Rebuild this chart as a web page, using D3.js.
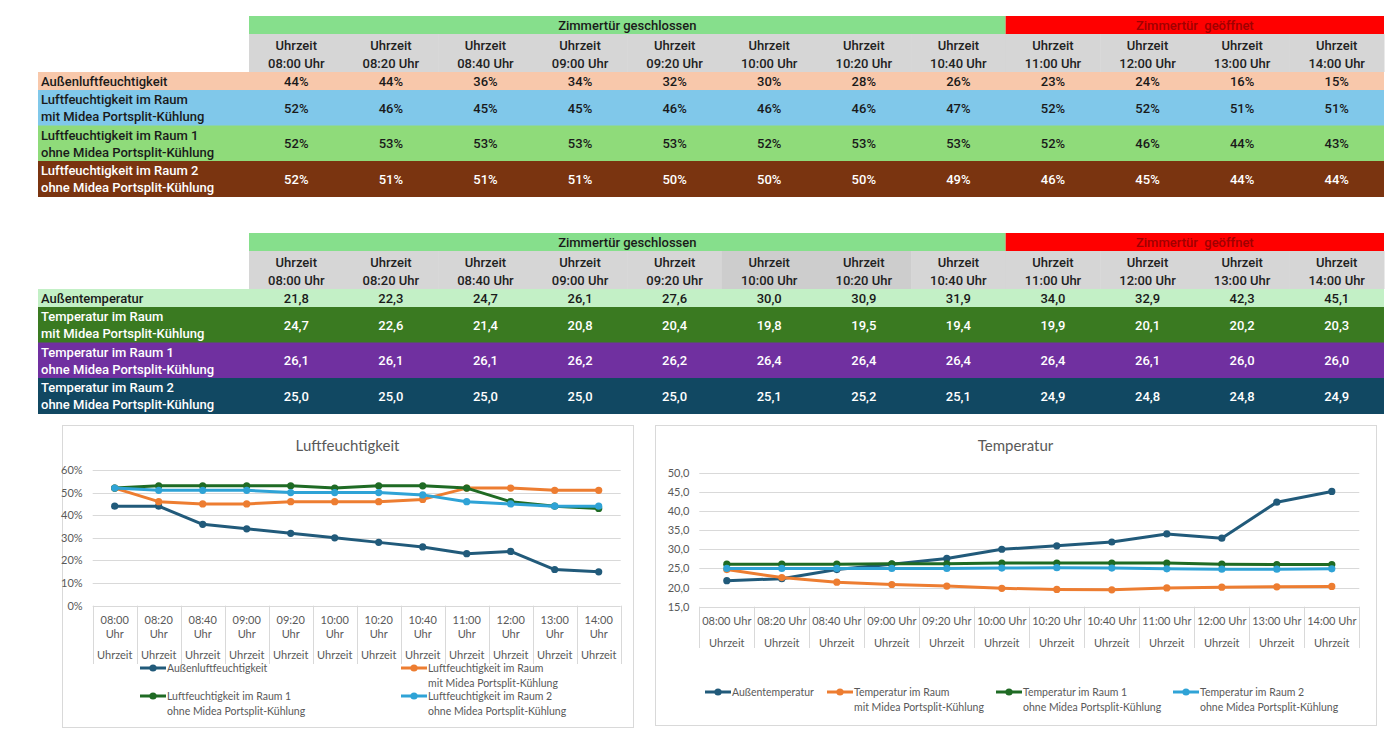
<!DOCTYPE html>
<html>
<head>
<meta charset="utf-8">
<script src="https://cdn.jsdelivr.net/npm/d3@7"></script>
<style>
  body { margin: 0; background: #fff; }
  svg { display: block; }
  .tbl text { font-family: Roboto, "DejaVu Sans Condensed", sans-serif; font-size: 13px; font-weight: 500; }
  .chart text { font-family: Lato, "Open Sans", sans-serif; fill: #595959; }
</style>
</head>
<body>
<svg id="main" width="1400" height="752"></svg>
<script>
const times = ["08:00", "08:20", "08:40", "09:00", "09:20", "10:00", "10:20", "10:40", "11:00", "12:00", "13:00", "14:00"];
const closedCount = 8; // first 8 slots: door closed

const humidOutside = [44, 44, 36, 34, 32, 30, 28, 26, 23, 24, 16, 15];
const humidRoomCooled = [52, 46, 45, 45, 46, 46, 46, 47, 52, 52, 51, 51];
const humidRoom1 = [52, 53, 53, 53, 53, 52, 53, 53, 52, 46, 44, 43];
const humidRoom2 = [52, 51, 51, 51, 50, 50, 50, 49, 46, 45, 44, 44];

const tempOutside = [21.8, 22.3, 24.7, 26.1, 27.6, 30.0, 30.9, 31.9, 34.0, 32.9, 42.3, 45.1];
const tempRoomCooled = [24.7, 22.6, 21.4, 20.8, 20.4, 19.8, 19.5, 19.4, 19.9, 20.1, 20.2, 20.3];
const tempRoom1 = [26.1, 26.1, 26.1, 26.2, 26.2, 26.4, 26.4, 26.4, 26.4, 26.1, 26.0, 26.0];
const tempRoom2 = [25.0, 25.0, 25.0, 25.0, 25.0, 25.1, 25.2, 25.1, 24.9, 24.8, 24.8, 24.9];

const humidLabels = [
  ["Außenluftfeuchtigkeit"],
  ["Luftfeuchtigkeit im Raum", "mit Midea Portsplit-Kühlung"],
  ["Luftfeuchtigkeit im Raum 1", "ohne Midea Portsplit-Kühlung"],
  ["Luftfeuchtigkeit im Raum 2", "ohne Midea Portsplit-Kühlung"],
];
const tempLabels = [
  ["Außentemperatur"],
  ["Temperatur im Raum", "mit Midea Portsplit-Kühlung"],
  ["Temperatur im Raum 1", "ohne Midea Portsplit-Kühlung"],
  ["Temperatur im Raum 2", "ohne Midea Portsplit-Kühlung"],
];

const humidTicks = [0, 10, 20, 30, 40, 50, 60];
const tempTicks = [15, 20, 25, 30, 35, 40, 45, 50];

const de = d3.formatLocale({ decimal: ",", thousands: ".", grouping: [3], currency: ["", " €"] });
const fmtTemp = de.format(".1f");
const fmtPct = (v) => v + "%";

const lineColors = ["#215a7a", "#ed7d31", "#1f6b24", "#2fa3d6"];

const svg = d3.select("#main");

// ---------- tables ----------
function drawTable(top, rows, labels, fills, inks, fmt, headerFills) {
  const g = svg.append("g").attr("class", "tbl");
  const x = d3.scaleBand().domain(times).range([249, 1384]);
  const rowH = [18, 35.5, 35.5, 35.5];
  const rowY = [top + 56];
  rowH.forEach((h, i) => rowY.push(rowY[i] + h));

  // door state band
  const split = x(times[closedCount]);
  g.append("rect").attr("x", 249).attr("y", top).attr("width", split - 249).attr("height", 18).attr("fill", "#86df8c");
  g.append("rect").attr("x", split).attr("y", top).attr("width", 1384 - split).attr("height", 18).attr("fill", "#ff0000");
  g.append("text").attr("x", (249 + split) / 2).attr("y", top + 14).attr("text-anchor", "middle")
    .attr("fill", "#1a1a1a").text("Zimmertür geschlossen");
  g.append("text").attr("x", (split + 1384) / 2).attr("y", top + 14).attr("text-anchor", "middle")
    .attr("fill", "#a00000").attr("xml:space", "preserve").text("Zimmertür  geöffnet");

  // time headers
  const head = g.selectAll(".head").data(times).join("g");
  head.append("rect").attr("x", (d) => x(d)).attr("y", top + 18).attr("width", x.bandwidth() + 0.5).attr("height", 38)
    .attr("fill", (d, i) => headerFills[i]);
  head.append("text").attr("x", (d) => x(d) + x.bandwidth() / 2).attr("y", top + 33.5).attr("text-anchor", "middle")
    .attr("fill", "#222").text("Uhrzeit");
  head.append("text").attr("x", (d) => x(d) + x.bandwidth() / 2).attr("y", top + 51.5).attr("text-anchor", "middle")
    .attr("fill", "#222").text((d) => d + " Uhr");

  rows.forEach((vals, r) => {
    const y0 = rowY[r], h = rowH[r];
    g.append("rect").attr("x", 38).attr("y", y0).attr("width", 1384 - 38).attr("height", h + 0.5).attr("fill", fills[r]);
    const lab = labels[r];
    lab.forEach((line, k) => {
      const ly = lab.length === 1 ? y0 + h / 2 + 5 : y0 + 14 + k * 17;
      g.append("text").attr("x", 41).attr("y", ly).attr("fill", inks[r]).text(line);
    });
    g.selectAll(null).data(vals).join("text")
      .attr("x", (d, i) => x(times[i]) + x.bandwidth() / 2)
      .attr("y", y0 + h / 2 + 5)
      .attr("text-anchor", "middle")
      .attr("fill", inks[r])
      .text(fmt);
  });
}

const grayHead = times.map(() => "#d6d6d6");
const grayHead2 = times.map((t) => (t === "10:00" || t === "10:20" ? "#cdcdcd" : "#d6d6d6"));

drawTable(16, [humidOutside, humidRoomCooled, humidRoom1, humidRoom2], humidLabels,
  ["#f8c8ab", "#80c8ea", "#8fdb7a", "#7a3410"], ["#1a1a1a", "#1a1a1a", "#1a1a1a", "#ffffff"], fmtPct, grayHead);

drawTable(233, [tempOutside, tempRoomCooled, tempRoom1, tempRoom2], tempLabels,
  ["#c3f0c6", "#3a7a21", "#7030a0", "#114862"], ["#1a1a1a", "#ffffff", "#ffffff", "#ffffff"], fmtTemp, grayHead2);

// ---------- charts ----------
function drawChart(o) {
  const g = svg.append("g").attr("class", "chart");
  g.append("rect").attr("x", o.box[0] + 0.5).attr("y", o.box[1] + 0.5).attr("width", o.box[2]).attr("height", o.box[3])
    .attr("fill", "#fff").attr("stroke", "#d9d9d9");
  g.append("text").attr("x", o.box[0] + o.box[2] / 2).attr("y", o.box[1] + 26).attr("text-anchor", "middle")
    .style("font-size", "15px").text(o.title);

  const x = d3.scaleBand().domain(times).range([o.left, o.right]);
  const y = d3.scaleLinear().domain(d3.extent(o.ticks)).range([o.bottom, o.top]);

  g.append("g").selectAll("line").data(o.ticks).join("line")
    .attr("x1", o.left).attr("x2", o.right)
    .attr("y1", (d) => Math.round(y(d)) + 0.5).attr("y2", (d) => Math.round(y(d)) + 0.5)
    .attr("stroke", "#d9d9d9");
  g.append("g").selectAll("text").data(o.ticks).join("text")
    .attr("x", o.left - 10).attr("y", (d) => y(d) + 4).attr("text-anchor", "end")
    .style("font-size", "11px").text(o.tickFmt);

  // category separators
  g.append("g").selectAll("line").data(times.concat(["end"])).join("line")
    .attr("x1", (d, i) => Math.round(o.left + i * x.bandwidth()) + 0.5)
    .attr("x2", (d, i) => Math.round(o.left + i * x.bandwidth()) + 0.5)
    .attr("y1", o.bottom).attr("y2", o.sepEnd).attr("stroke", "#d9d9d9");

  const cat = g.append("g").selectAll("g").data(times).join("g")
    .attr("transform", (d) => `translate(${x(d) + x.bandwidth() / 2},0)`);
  o.catLines.forEach((cl) => {
    cat.append("text").attr("y", cl.y).attr("text-anchor", "middle").style("font-size", "11px").text(cl.text);
  });

  const line = d3.line().x((d, i) => x(times[i]) + x.bandwidth() / 2).y((d) => y(d));
  o.series.forEach((vals, s) => {
    const sg = g.append("g");
    sg.append("path").attr("d", line(vals)).attr("fill", "none").attr("stroke", lineColors[s])
      .attr("stroke-width", 3).attr("stroke-linejoin", "round").attr("stroke-linecap", "round");
    sg.selectAll("circle").data(vals).join("circle")
      .attr("cx", (d, i) => x(times[i]) + x.bandwidth() / 2).attr("cy", (d) => y(d)).attr("r", 3.6)
      .attr("fill", lineColors[s]);
  });

  // legend
  o.legend.forEach((pos, s) => {
    const lg = g.append("g").attr("transform", `translate(${pos[0]},${pos[1]})`);
    lg.append("line").attr("x1", 0).attr("x2", 26).attr("y1", 0).attr("y2", 0)
      .attr("stroke", lineColors[s]).attr("stroke-width", 3);
    lg.append("circle").attr("cx", 13).attr("cy", 0).attr("r", 3.6).attr("fill", lineColors[s]);
    o.labels[s].forEach((t, k) => {
      lg.append("text").attr("x", 27).attr("y", 4 + k * 15).style("font-size", "10.5px").text(t);
    });
  });
}

drawChart({
  box: [62, 425, 571, 302],
  title: "Luftfeuchtigkeit",
  left: 92.7, right: 620.7, top: 470, bottom: 605.7, sepEnd: 664,
  ticks: humidTicks, tickFmt: fmtPct,
  catLines: [
    { y: 624, text: (d) => d },
    { y: 638, text: "Uhr" },
    { y: 659, text: "Uhrzeit" },
  ],
  series: [humidOutside, humidRoomCooled, humidRoom1, humidRoom2],
  labels: humidLabels,
  legend: [[140, 668], [401, 668], [140, 696], [401, 696]],
});

drawChart({
  box: [655, 425, 721, 300],
  title: "Temperatur",
  left: 699.3, right: 1359.3, top: 472.7, bottom: 606.7, sepEnd: 648,
  ticks: tempTicks, tickFmt: fmtTemp,
  catLines: [
    { y: 625, text: (d) => d + " Uhr" },
    { y: 647, text: "Uhrzeit" },
  ],
  series: [tempOutside, tempRoomCooled, tempRoom1, tempRoom2],
  labels: tempLabels,
  legend: [[705, 692], [827, 692], [996, 692], [1173, 692]],
});
</script>
</body>
</html>
